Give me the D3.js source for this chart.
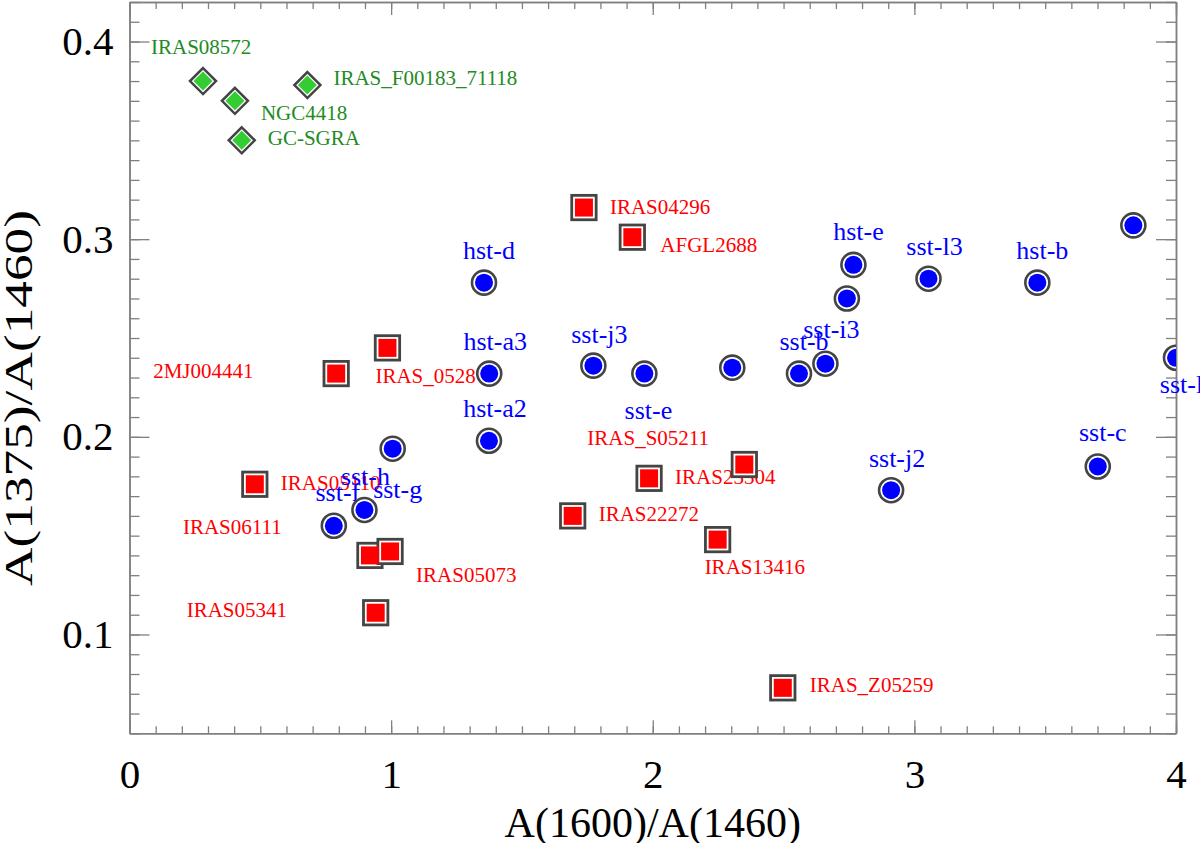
<!DOCTYPE html>
<html>
<head>
<meta charset="utf-8">
<script src="https://cdn.jsdelivr.net/npm/d3@7"></script>
<style>
  body { margin: 0; background: #fff; }
  svg { display: block; font-family: "Liberation Serif", "Times New Roman", serif; }
</style>
</head>
<body>
<svg width="1200" height="843"></svg>
<script>
// ---- data ----
var greenNames = ["IRAS08572", "NGC4418", "GC-SGRA", "IRAS_F00183_71118"];
var greenX = [0.281, 0.403, 0.429, 0.680];
var greenY = [0.380, 0.370, 0.350, 0.378];

var redNames = ["IRAS04296", "AFGL2688", "IRAS_0528", "2MJ004441", "IRAS05110", "IRAS06111",
                "IRAS05073", "IRAS05341", "IRAS23304", "IRAS_S05211", "IRAS22272", "IRAS13416", "IRAS_Z05259"];
var redX = [1.737, 1.922, 0.986, 0.790, 0.479, 0.919, 0.996, 0.941, 1.986, 2.350, 1.694, 2.248, 2.497];
var redY = [0.316, 0.301, 0.245, 0.232, 0.176, 0.140, 0.142, 0.111, 0.179, 0.186, 0.160, 0.148, 0.073];

var blueNames = ["hst-d", "hst-a3", "hst-a2", "sst-j3", "sst-e", "", "sst-b", "sst-i3", "", "hst-e",
                 "sst-l3", "hst-b", "", "sst-l2", "sst-c", "sst-j2", "sst-g", "sst-h", "sst-f"];
var blueX = [1.355, 1.375, 1.374, 1.773, 1.968, 2.304, 2.559, 2.660, 2.742, 2.767,
             3.054, 3.470, 3.837, 4.000, 3.701, 2.911, 1.006, 0.898, 0.781];
var blueY = [0.278, 0.232, 0.198, 0.236, 0.232, 0.235, 0.232, 0.237, 0.270, 0.287,
             0.280, 0.278, 0.307, 0.240, 0.185, 0.173, 0.194, 0.163, 0.155];

var xTicks = [0, 1, 2, 3, 4];
var yTicks = [0.1, 0.2, 0.3, 0.4];

// label offsets from the symbol, in pixels (layout only)
var greenShift = [[-52, -27], [26, 19], [26, 5], [26, 0]];
var redShift = [[26, 6], [28, 15], [-12, 35], [-183, 4], [26, 6], [-187, -21],
                [26, 31], [-189, 4], [26, 6], [-157, -19], [26, 5], [-13, 34], [27, 4]];
var blueShift = [[5, -24], [6, -24], [6, -24], [6, -23], [4, 45], [0, 0], [5, -24], [6, -26], [0, 0], [5, -25],
                 [6, -24], [5, -24], [0, 0], [12, 35], [5, -25], [6, -23], [5, 49], [1, -25], [4, -25]];

// ---- scales ----
var svg = d3.select("svg");
var pLeft = 129.5, pRight = 1176, pTop = 2, pBottom = 733.3;

var x = d3.scaleLinear().domain([0, 4]).range([pLeft, pRight]);
var y = d3.scaleLinear().domain([0.05, 0.42]).range([pBottom, pTop]);

svg.append("rect").attr("width", 1200).attr("height", 843).attr("fill", "#fff");

svg.append("clipPath").attr("id", "plot")
   .append("rect")
   .attr("x", pLeft).attr("y", pTop)
   .attr("width", pRight - pLeft).attr("height", pBottom - pTop);

// ---- axes: ticks point inward on all four sides ----
function drawAxis(axis, tx, ty, labelled) {
  var g = svg.append("g")
             .attr("transform", "translate(" + tx + "," + ty + ")")
             .call(axis)
             .attr("font-family", null)
             .attr("font-size", 41)
             .attr("color", "#808080");
  g.selectAll("line").attr("stroke-width", 1.3);
  g.select(".domain").attr("stroke-width", 1.5);
  g.selectAll("text").attr("fill", "#000");
  if (!labelled) g.selectAll("text").remove();
  return g;
}

var xMinor = d3.range(0, 41).map(function(i) { return i / 10; });
var yMinor = d3.range(5, 43).map(function(i) { return i / 100; });

drawAxis(d3.axisBottom(x).tickValues(xMinor).tickSize(-7).tickSizeOuter(0).tickFormat(""), 0, pBottom, false);
drawAxis(d3.axisBottom(x).tickValues(xTicks).tickSize(-13).tickSizeOuter(0).tickPadding(26).tickFormat(d3.format("d")), 0, pBottom, true);
drawAxis(d3.axisTop(x).tickValues(xMinor).tickSize(-7).tickSizeOuter(0).tickFormat(""), 0, pTop, false);
drawAxis(d3.axisTop(x).tickValues(xTicks).tickSize(-13).tickSizeOuter(0).tickFormat(""), 0, pTop, false);

drawAxis(d3.axisLeft(y).tickValues(yMinor).tickSize(-10).tickSizeOuter(0).tickFormat(""), pLeft, 0, false);
drawAxis(d3.axisLeft(y).tickValues(yTicks).tickSize(-20).tickSizeOuter(0).tickPadding(16).tickFormat(d3.format(".1f")), pLeft, 0, true);
drawAxis(d3.axisRight(y).tickValues(yMinor).tickSize(-10).tickSizeOuter(0).tickFormat(""), pRight, 0, false);
drawAxis(d3.axisRight(y).tickValues(yTicks).tickSize(-20).tickSizeOuter(0).tickFormat(""), pRight, 0, false);

// axis titles
svg.append("text")
   .attr("x", (pLeft + pRight) / 2)
   .attr("y", 837)
   .attr("text-anchor", "middle")
   .attr("font-size", 42)
   .text("A(1600)/A(1460)");

svg.append("text")
   .attr("transform", "translate(32,398) rotate(-90)")
   .attr("text-anchor", "middle")
   .attr("font-size", 39)
   .attr("textLength", 376)
   .attr("lengthAdjust", "spacingAndGlyphs")
   .text("A(1375)/A(1460)");

// ---- helpers ----
function rows(names, xs, ys, shift) {
  return names.map(function(n, i) {
    return { name: n, x: xs[i], y: ys[i], dx: shift[i][0], dy: shift[i][1] };
  });
}

function labels(data, color, size, anchor) {
  svg.append("g")
     .selectAll("text")
     .data(data.filter(function(d) { return d.name; }))
     .enter().append("text")
     .attr("x", function(d) { return x(d.x) + d.dx; })
     .attr("y", function(d) { return y(d.y) + d.dy; })
     .attr("text-anchor", anchor)
     .attr("font-size", size)
     .attr("fill", color)
     .text(function(d) { return d.name; });
}

// ---- green diamonds ----
var green = rows(greenNames, greenX, greenY, greenShift);
labels(green, "#228b22", 21, "start");

function diamond(r) {
  return "M0," + (-r) + "L" + r + ",0L0," + r + "L" + (-r) + ",0Z";
}
var gd = svg.append("g").attr("clip-path", "url(#plot)");
gd.selectAll(".out")
  .data(green).enter().append("path")
  .attr("class", "out")
  .attr("transform", function(d) { return "translate(" + x(d.x) + "," + y(d.y) + ")"; })
  .attr("d", diamond(13))
  .attr("fill", "#fff").attr("stroke", "#444").attr("stroke-width", 2.5);
gd.selectAll(".in")
  .data(green).enter().append("path")
  .attr("class", "in")
  .attr("transform", function(d) { return "translate(" + x(d.x) + "," + y(d.y) + ")"; })
  .attr("d", diamond(9.5))
  .attr("fill", "#33cc33");

// ---- red squares ----
var red = rows(redNames, redX, redY, redShift);
labels(red, "#ff0000", 21, "start");

var rs = svg.append("g").attr("clip-path", "url(#plot)");
rs.selectAll(".out")
  .data(red).enter().append("rect")
  .attr("class", "out")
  .attr("x", function(d) { return x(d.x) - 12.2; })
  .attr("y", function(d) { return y(d.y) - 12.2; })
  .attr("width", 24.4).attr("height", 24.4)
  .attr("fill", "#fff").attr("stroke", "#444").attr("stroke-width", 2.8);
rs.selectAll(".in")
  .data(red).enter().append("rect")
  .attr("class", "in")
  .attr("x", function(d) { return x(d.x) - 9; })
  .attr("y", function(d) { return y(d.y) - 9; })
  .attr("width", 18).attr("height", 18)
  .attr("fill", "#ff0000");

// ---- blue circles (drawn above the red layer) ----
var blue = rows(blueNames, blueX, blueY, blueShift);
labels(blue, "#0000ff", 26, "middle");

var bc = svg.append("g").attr("clip-path", "url(#plot)");
bc.selectAll(".out")
  .data(blue).enter().append("circle")
  .attr("class", "out")
  .attr("cx", function(d) { return x(d.x); })
  .attr("cy", function(d) { return y(d.y); })
  .attr("r", 12)
  .attr("fill", "#fff").attr("stroke", "#444").attr("stroke-width", 2.6);
bc.selectAll(".in")
  .data(blue).enter().append("circle")
  .attr("class", "in")
  .attr("cx", function(d) { return x(d.x); })
  .attr("cy", function(d) { return y(d.y); })
  .attr("r", 9)
  .attr("fill", "#0000ff");
</script>
</body>
</html>
